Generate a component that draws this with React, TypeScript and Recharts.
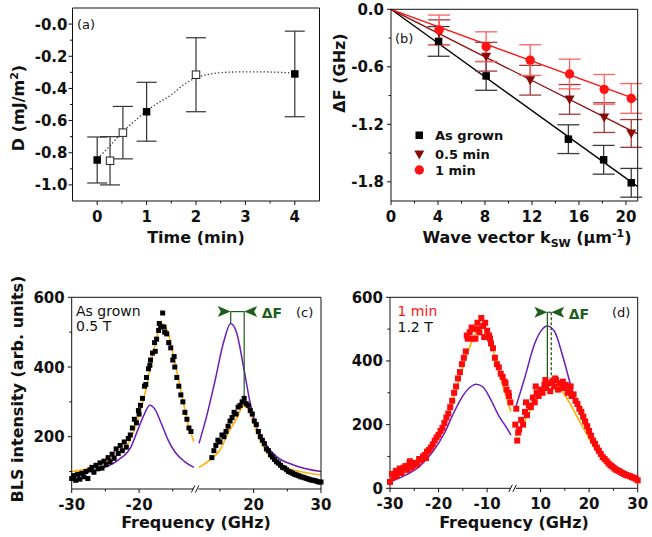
import React from 'react';
import { ComposedChart, Line, Scatter, XAxis, YAxis, ErrorBar, ReferenceLine, ReferenceDot } from 'recharts';

const W = 652;
const H = 537;
const FONT = '"DejaVu Sans", "Liberation Sans", sans-serif';
const INK = '#111111';
const YELLOW = '#FFB000';
const PURPLE = '#6A1CB8';
const GREEN = '#1D5E1D';
const RED = '#FF1414';
const DARKRED = '#8A0A0A';

// ---------------- Panel (a): D vs time ----------------
const timeFilled = [0, 1.0, 4.0];
const dFilled = [-0.845, -0.545, -0.31];
const dFilledErr = [0.143, 0.183, 0.266];
const timeOpen = [0.26, 0.52, 2.0];
const dOpen = [-0.85, -0.675, -0.315];
const dOpenErr = [0.15, 0.163, 0.23];
const fitTime = [0.06, 0.25, 0.5, 0.75, 1.0, 1.25, 1.5, 1.75, 2.0, 2.25, 2.5, 2.75, 3.0, 3.5, 4.0];
const fitD = [-0.82, -0.76, -0.675, -0.605, -0.54, -0.487, -0.44, -0.377, -0.335, -0.313, -0.302, -0.298, -0.297, -0.298, -0.305];
const aTimeMajor = [0, 1, 2, 3, 4];
const aTimeMinor = [0.5, 1.5, 2.5, 3.5];
const aDMajor = [0, -0.2, -0.4, -0.6, -0.8, -1.0];
const aDMinor = [-0.1, -0.3, -0.5, -0.7, -0.9];

// ---------------- Panel (b): dF vs k ----------------
const kAsGrown = [4.05, 8.1, 15.1, 18.1, 20.45];
const dfAsGrown = [-0.335, -0.695, -1.355, -1.57, -1.81];
const errAsGrown = [0.155, 0.15, 0.15, 0.15, 0.15];
const kHalf = [4.1, 8.1, 11.85, 15.2, 18.15, 20.45];
const dfHalf = [-0.24, -0.495, -0.74, -0.94, -1.13, -1.295];
const errHalf = [0.13, 0.15, 0.155, 0.155, 0.155, 0.145];
const kOne = [4.1, 8.1, 11.85, 15.2, 18.15, 20.45];
const dfOne = [-0.215, -0.39, -0.53, -0.675, -0.835, -0.93];
const errOne = [0.155, 0.155, 0.16, 0.155, 0.155, 0.155];
const kFit = [0, 21];
const fitAsGrown = [0, -1.85];
const fitHalf = [0, -1.3];
const fitOne = [0, -0.946];
const bKMajor = [0, 4, 8, 12, 16, 20];
const bKMinor = [2, 6, 10, 14, 18];
const bFMajor = [0, -0.6, -1.2, -1.8];
const bFMinor = [-0.3, -0.9, -1.5];

// ---------------- Panel (c): spectrum as grown, 0.5 T ----------------
const C_OFF = 11.5;
const cLeftFreq = [-30.0, -29.7, -29.4, -29.1, -28.8, -28.5, -28.2, -27.9, -27.6, -27.3, -27.0, -26.7, -26.4, -26.1, -25.8, -25.5, -25.2, -24.9, -24.6, -24.3, -24.0, -23.7, -23.4, -23.1, -22.8, -22.5, -22.2, -21.9, -21.6, -21.3, -21.0, -20.7, -20.4, -20.1, -19.8, -19.5, -19.2, -18.9, -18.6, -18.3, -18.0, -17.7, -17.4, -17.1, -16.8, -16.5, -16.2, -15.9, -15.6, -15.3, -15.0, -14.7, -14.4, -14.1, -13.8, -13.5, -13.2, -12.9, -12.6, -12.3, -17.0, -16.3, -17.6, -18.4, -14.8, -19.0, -20.0];
const cLeftCounts = [80, 88, 75, 92, 78, 95, 85, 100, 80, 105, 112, 98, 118, 108, 125, 110, 130, 120, 140, 128, 150, 138, 165, 152, 175, 160, 185, 170, 195, 205, 225, 250, 240, 275, 290, 310, 345, 370, 395, 420, 440, 470, 480, 505, 515, 555, 500, 495, 470, 455, 420, 400, 370, 345, 320, 300, 270, 250, 225, 215, 525, 515, 445, 405, 430, 350, 265];
const cRightFreq = [13.8, 14.1, 14.4, 14.7, 15.0, 15.3, 15.6, 15.9, 16.2, 16.5, 16.8, 17.1, 17.4, 17.7, 18.0, 18.3, 18.6, 18.9, 19.2, 19.5, 19.8, 20.1, 20.4, 20.7, 21.0, 21.3, 21.6, 21.9, 22.2, 22.5, 22.8, 23.1, 23.4, 23.7, 24.0, 24.3, 24.6, 24.9, 25.2, 25.5, 25.8, 26.1, 26.4, 26.7, 27.0, 27.3, 27.6, 27.9, 28.2, 28.5, 28.8, 29.1, 29.4, 29.7, 30.0];
const cRightCounts = [140, 160, 175, 190, 185, 205, 200, 215, 230, 245, 255, 270, 265, 285, 290, 300, 310, 295, 290, 275, 265, 245, 235, 215, 200, 190, 180, 165, 160, 148, 142, 135, 128, 124, 118, 112, 110, 105, 100, 98, 95, 92, 90, 88, 85, 84, 82, 80, 78, 76, 75, 74, 72, 70, 70];
const cFitLeftFreq = [-30, -27.6, -25.6, -23.6, -22.1, -20.9, -19.9, -18.9, -18.2, -17.45, -17.0, -16.56, -16.1, -15.7, -14.97, -14.23, -13.5, -12.75, -11.86];
const cFitLeft = [100, 109, 124, 143, 167, 210, 267, 343, 415, 477, 512, 525, 515, 500, 439, 372, 305, 238, 186];
const cMirLeftFreq = [-30, -25.6, -23.1, -21.2, -20.2, -19.4, -18.4, -17.6, -16.7, -15.7, -14.7, -13.2, -11.86];
const cMirLeft = [93, 109, 133, 171, 219, 257, 290, 277, 238, 191, 157, 128, 112];
const cFitRightFreq = [11.9, 13.5, 15.0, 16.2, 17.5, 18.5, 19.2, 20.2, 21.2, 22.4, 24.4, 26.9, 30];
const cFitRight = [112, 133, 162, 210, 253, 288, 280, 229, 181, 143, 114, 100, 90];
const cMirRightFreq = [11.9, 13.0, 14.3, 15.5, 16.6, 17.5, 18.5, 19.5, 20.4, 21.7, 23.4, 25.9, 30];
const cMirRight = [181, 257, 363, 468, 525, 497, 401, 296, 229, 181, 143, 119, 100];
const cMark = { lowFreq: 16.6, highFreq: 18.6, level: 559, lowEnd: 525, highEnd: 305 };
const cFreqMajor = [-30, -20, 20, 30];
const cFreqMinor = [-25, -15, 15, 25];
const cCntMajor = [200, 400, 600];
const cCntMinor = [100, 300, 500];

// ---------------- Panel (d): spectrum 1 min, 1.2 T ----------------
const D_OFF = 4.5;
const dLeftFreq = [-30.0, -29.6, -29.2, -28.8, -28.4, -28.0, -27.6, -27.2, -26.8, -26.4, -26.0, -25.6, -25.2, -24.8, -24.4, -24.0, -23.6, -23.2, -22.8, -22.4, -22.0, -21.6, -21.2, -20.8, -20.4, -20.0, -19.6, -19.2, -18.8, -18.4, -18.0, -17.6, -17.2, -16.8, -16.4, -16.0, -15.6, -15.2, -14.8, -14.4, -14.0, -13.6, -13.2, -12.8, -12.4, -12.0, -11.6, -11.2, -10.8, -10.4, -10.0, -9.6, -9.2, -8.8, -8.4, -8.0, -7.6, -7.2, -6.8, -6.4, -6.0, -5.6, -5.2, -14.2, -13.0, -11.9, -10.6, -9.4, -28.6, -25.9, -22.6, -6.2, -5.5];
const dLeftCounts = [20, 45, 35, 55, 50, 62, 48, 65, 70, 58, 78, 65, 72, 80, 75, 92, 88, 100, 105, 115, 120, 128, 138, 150, 160, 168, 180, 190, 205, 222, 235, 255, 275, 300, 320, 345, 365, 390, 410, 430, 470, 490, 505, 500, 470, 520, 490, 535, 510, 520, 495, 480, 455, 440, 410, 390, 380, 360, 350, 335, 310, 300, 270, 480, 470, 500, 475, 470, 40, 85, 95, 330, 290];
const dRightFreq = [4.8, 5.2, 5.6, 6.0, 6.4, 6.8, 7.2, 7.6, 8.0, 8.4, 8.8, 9.2, 9.6, 10.0, 10.4, 10.8, 11.2, 11.6, 12.0, 12.4, 12.8, 13.2, 13.6, 14.0, 14.4, 14.8, 15.2, 15.6, 16.0, 16.4, 16.8, 17.2, 17.6, 18.0, 18.4, 18.8, 19.2, 19.6, 20.0, 20.4, 20.8, 21.2, 21.6, 22.0, 22.4, 22.8, 23.2, 23.6, 24.0, 24.4, 24.8, 25.2, 25.6, 26.0, 26.4, 26.8, 27.2, 27.6, 28.0, 28.4, 28.8, 29.2, 29.6, 30.0, 5.0, 5.4, 7.0, 9.0, 11.0, 13.0, 14.6, 16.2];
const dRightCounts = [200, 150, 185, 215, 200, 240, 230, 260, 255, 285, 270, 300, 290, 310, 300, 325, 315, 330, 305, 335, 320, 340, 310, 330, 320, 315, 325, 300, 310, 290, 295, 275, 265, 250, 240, 225, 210, 195, 180, 165, 150, 140, 128, 118, 108, 98, 92, 85, 78, 72, 68, 62, 58, 55, 52, 48, 45, 42, 40, 38, 35, 33, 30, 25, 250, 175, 270, 320, 340, 345, 335, 320];
const dFitLeftFreq = [-30, -26.7, -24, -21.2, -18.8, -17.1, -15.4, -13.7, -12.3, -11.06, -9.9, -8.85, -7.5, -6.1, -5.1];
const dFitLeft = [28, 52, 84, 131, 204, 277, 361, 440, 487, 510, 487, 440, 361, 288, 241];
const dMirLeftFreq = [-30, -26.7, -24, -21.2, -18.8, -17.1, -15.1, -13.4, -12.3, -10.9, -9.2, -7.5, -6.1, -5.1];
const dMirLeft = [20, 42, 68, 115, 173, 230, 288, 319, 327, 319, 277, 225, 193, 167];
const dFitRightFreq = [4.9, 6.0, 7.4, 8.8, 10.5, 12.2, 13.95, 15.65, 17.7, 19.8, 21.8, 23.9, 26.6, 30];
const dFitRight = [165, 193, 230, 272, 309, 327, 314, 277, 220, 162, 110, 73, 47, 22];
const dMirRightFreq = [4.9, 6.7, 8.8, 10.2, 11.4, 12.9, 14.6, 16.3, 18.1, 19.8, 21.8, 24.6, 27.3, 30];
const dMirRight = [255, 345, 455, 497, 510, 492, 413, 319, 236, 173, 120, 79, 52, 28];
const dMark = { lowFreq: 11.4, highFreq: 12.2, level: 553, lowEnd: 330, highEnd: 330 };
const dFreqMajor = [-30, -20, -10, 10, 20, 30];
const dFreqMinor = [-25, -15, 15, 25];
const dCntMajor = [0, 200, 400, 600];
const dCntMinor = [100, 300, 500];

// ---------------- helpers ----------------
type Row = { x: number; y: number; err: number };
const rows = (xs: number[], ys: number[], errs?: number[]): Row[] =>
  xs.map((x, i) => ({ x, y: ys[i], err: errs ? errs[i] : 0 }));
const brk = (f: number, off: number) => (f < 0 ? f + off : f - off);
const unbrk = (v: number, off: number) => (v < 0 ? v - off : v + off);
const brows = (xs: number[], ys: number[], off: number): Row[] =>
  xs.map((x, i) => ({ x: brk(x, off), y: ys[i], err: 0 }));
const near = (a: number, b: number) => Math.abs(a - b) < 1e-6;

type Box = { l: number; t: number; r: number; b: number };
const AX = 1; // thickness reserved by each axis
const marginOf = (b: Box) => ({ left: b.l - AX, top: b.t - AX, right: W - b.r - AX, bottom: H - b.b - AX });

function mkTick(side: string, majors: number[], fmt: (v: number) => string, gap: number, breakAt?: number) {
  return (p: any) => {
    const x = Number(p.x);
    const y = Number(p.y);
    const v = Number(p.payload?.value);
    if (breakAt !== undefined && near(v, breakAt)) {
      return (
        <g>
          <rect x={x - 3} y={y - 2} width={5} height={4} fill="#ffffff" />
          <line x1={x - 5} y1={y + 3.5} x2={x - 1.5} y2={y - 3.5} stroke={INK} strokeWidth={1} />
          <line x1={x - 1} y1={y + 3.5} x2={x + 2.5} y2={y - 3.5} stroke={INK} strokeWidth={1} />
        </g>
      );
    }
    const major = majors.some((m) => near(m, v));
    const len = major ? 4 : 2.5;
    const lab = { fontFamily: FONT, fontWeight: 700, fontSize: 15, fill: INK } as const;
    if (side === 'bottom') {
      return (
        <g>
          <line x1={x} y1={y} x2={x} y2={y + len} stroke={INK} strokeWidth={1} />
          {major ? (
            <text x={x} y={y + 21} textAnchor="middle" {...lab}>
              {fmt(v)}
            </text>
          ) : null}
        </g>
      );
    }
    if (side === 'top') {
      return <line x1={x} y1={y} x2={x} y2={y + len} stroke={INK} strokeWidth={1} />;
    }
    if (side === 'left') {
      return (
        <g>
          <line x1={x} y1={y} x2={x - len} y2={y} stroke={INK} strokeWidth={1} />
          {major ? (
            <text x={x - gap} y={y + 5.5} textAnchor="end" {...lab}>
              {fmt(v)}
            </text>
          ) : null}
        </g>
      );
    }
    return <line x1={x} y1={y} x2={x - len} y2={y} stroke={INK} strokeWidth={1} />;
  };
}

type FrameCfg = {
  xDomain: [number, number];
  yDomain: [number, number];
  xMajor: number[];
  xMinor: number[];
  yMajor: number[];
  yMinor: number[];
  xFmt: (v: number) => string;
  yFmt: (v: number) => string;
  yGap: number;
  xBreak?: number;
};

function frameAxes(c: FrameCfg) {
  const xTicks = [...c.xMajor, ...c.xMinor, ...(c.xBreak !== undefined ? [c.xBreak] : [])].sort((a, b) => a - b);
  const yTicks = [...c.yMajor, ...c.yMinor].sort((a, b) => a - b);
  const line = { stroke: INK, strokeWidth: 1 };
  return [
    <XAxis key="xb" dataKey="x" type="number" domain={c.xDomain} ticks={xTicks} interval={0} height={AX}
      tickSize={0} tickMargin={0} tickLine={false} axisLine={line}
      tick={mkTick('bottom', c.xMajor, c.xFmt, 0, c.xBreak)} />,
    <XAxis key="xt" xAxisId="t" orientation="top" dataKey="x" type="number" domain={c.xDomain} ticks={xTicks}
      interval={0} height={AX} tickSize={0} tickMargin={0} tickLine={false} axisLine={line}
      tick={mkTick('top', c.xMajor, c.xFmt, 0, c.xBreak)} />,
    <YAxis key="yl" dataKey="y" type="number" domain={c.yDomain} ticks={yTicks} interval={0} width={AX}
      tickSize={0} tickMargin={0} tickLine={false} axisLine={line}
      tick={mkTick('left', c.yMajor, c.yFmt, c.yGap)} />,
    <YAxis key="yr" yAxisId="r" orientation="right" dataKey="y" type="number" domain={c.yDomain} ticks={yTicks}
      interval={0} width={AX} tickSize={0} tickMargin={0} tickLine={false} axisLine={line}
      tick={mkTick('right', c.yMajor, c.yFmt, 0)} />,
  ];
}

const square = (size: number, fill: string, stroke?: string) => (p: any) => (
  <rect x={p.cx - size / 2} y={p.cy - size / 2} width={size} height={size} fill={fill}
    stroke={stroke || 'none'} strokeWidth={stroke ? 1 : 0} />
);
const triDown = (size: number, fill: string) => (p: any) => (
  <path d={`M${p.cx - size / 2},${p.cy - size * 0.4} L${p.cx + size / 2},${p.cy - size * 0.4} L${p.cx},${p.cy + size * 0.5} Z`} fill={fill} />
);
const dotShape = (r: number, fill: string) => (p: any) => <circle cx={p.cx} cy={p.cy} r={r} fill={fill} />;

const arrowToRight = (p: any) => (
  <path d={`M${p.cx},${p.cy} L${p.cx - 13},${p.cy - 5.5} L${p.cx - 10},${p.cy} L${p.cx - 13},${p.cy + 5.5} Z`} fill={GREEN} />
);
const arrowToLeftLabel = (p: any) => (
  <g>
    <path d={`M${p.cx},${p.cy} L${p.cx + 13},${p.cy - 5.5} L${p.cx + 10},${p.cy} L${p.cx + 13},${p.cy + 5.5} Z`} fill={GREEN} />
    <text x={p.cx + 17.5} y={p.cy + 6.5} fontFamily={FONT} fontWeight={700} fontSize={14} fill={GREEN}>ΔF</text>
  </g>
);

// ---------------- panels ----------------
const boxA: Box = { l: 72.5, t: 8, r: 319.5, b: 201 };
const boxB: Box = { l: 391, t: 9.3, r: 637.7, b: 201 };
const boxC: Box = { l: 71.7, t: 297.3, r: 321, b: 489 };
const boxD: Box = { l: 390, t: 297.3, r: 637.7, b: 488.3 };

function PanelA() {
  return (
    <ComposedChart width={W} height={H} margin={marginOf(boxA)}>
      {frameAxes({
        xDomain: [-0.5, 4.5], yDomain: [-1.1, 0.1],
        xMajor: aTimeMajor, xMinor: aTimeMinor, yMajor: aDMajor, yMinor: aDMinor,
        xFmt: (v) => String(v), yFmt: (v) => (Math.abs(v) < 1e-9 ? '-0.0' : v.toFixed(1)), yGap: 5,
      })}
      <Line data={rows(fitTime, fitD)} dataKey="y" type="monotone" stroke="#333" strokeWidth={1.3}
        strokeDasharray="1.3 2.2" dot={false} isAnimationActive={false} />
      <Scatter data={rows(timeOpen, dOpen, dOpenErr)} dataKey="y" shape={square(7.5, '#ffffff', '#222')} isAnimationActive={false}>
        <ErrorBar dataKey="err" direction="y" width={10} stroke="#333" strokeWidth={1.2} />
      </Scatter>
      <Scatter data={rows(timeFilled, dFilled, dFilledErr)} dataKey="y" shape={square(7.5, '#000')} isAnimationActive={false}>
        <ErrorBar dataKey="err" direction="y" width={10} stroke="#333" strokeWidth={1.2} />
      </Scatter>
    </ComposedChart>
  );
}

function PanelB() {
  return (
    <ComposedChart width={W} height={H} margin={marginOf(boxB)}>
      {frameAxes({
        xDomain: [0, 21], yDomain: [-2, 0],
        xMajor: bKMajor, xMinor: bKMinor, yMajor: bFMajor, yMinor: bFMinor,
        xFmt: (v) => String(v), yFmt: (v) => (Math.abs(v) < 1e-9 ? '0.0' : v.toFixed(1)), yGap: 7,
      })}
      <Line data={rows(kFit, fitAsGrown)} dataKey="y" type="linear" stroke="#000" strokeWidth={1.3} dot={false} isAnimationActive={false} />
      <Line data={rows(kFit, fitHalf)} dataKey="y" type="linear" stroke={DARKRED} strokeWidth={1.3} dot={false} isAnimationActive={false} />
      <Line data={rows(kFit, fitOne)} dataKey="y" type="linear" stroke={RED} strokeWidth={1.3} dot={false} isAnimationActive={false} />
      <Scatter data={rows(kAsGrown, dfAsGrown, errAsGrown)} dataKey="y" shape={square(7.5, '#000')} isAnimationActive={false}>
        <ErrorBar dataKey="err" direction="y" width={11} stroke="#3a3a3a" strokeWidth={1.3} />
      </Scatter>
      <Scatter data={rows(kHalf, dfHalf, errHalf)} dataKey="y" shape={triDown(10, DARKRED)} isAnimationActive={false}>
        <ErrorBar dataKey="err" direction="y" width={11} stroke="#a03a3a" strokeWidth={1.3} />
      </Scatter>
      <Scatter data={rows(kOne, dfOne, errOne)} dataKey="y" shape={dotShape(4.7, RED)} isAnimationActive={false}>
        <ErrorBar dataKey="err" direction="y" width={11} stroke="#ff6060" strokeWidth={1.3} />
      </Scatter>
    </ComposedChart>
  );
}

function PanelC() {
  const x1 = brk(cMark.lowFreq, C_OFF);
  const x2 = brk(cMark.highFreq, C_OFF);
  return (
    <ComposedChart width={W} height={H} margin={marginOf(boxC)}>
      {frameAxes({
        xDomain: [-18.5, 18.5], yDomain: [50, 600],
        xMajor: cFreqMajor.map((f) => brk(f, C_OFF)), xMinor: cFreqMinor.map((f) => brk(f, C_OFF)),
        yMajor: cCntMajor, yMinor: cCntMinor,
        xFmt: (v) => String(Math.round(unbrk(v, C_OFF))), yFmt: (v) => String(v), yGap: 7, xBreak: 0,
      })}
      <Scatter data={brows(cLeftFreq, cLeftCounts, C_OFF)} dataKey="y" shape={square(5, '#000')} isAnimationActive={false} />
      <Scatter data={brows(cRightFreq, cRightCounts, C_OFF)} dataKey="y" shape={square(5, '#000')} isAnimationActive={false} />
      <Line data={brows(cMirLeftFreq, cMirLeft, C_OFF)} dataKey="y" type="monotone" stroke={PURPLE} strokeWidth={1.5} dot={false} isAnimationActive={false} />
      <Line data={brows(cMirRightFreq, cMirRight, C_OFF)} dataKey="y" type="monotone" stroke={PURPLE} strokeWidth={1.5} dot={false} isAnimationActive={false} />
      <Line data={brows(cFitLeftFreq, cFitLeft, C_OFF)} dataKey="y" type="monotone" stroke={YELLOW} strokeWidth={1.6} dot={false} isAnimationActive={false} />
      <Line data={brows(cFitRightFreq, cFitRight, C_OFF)} dataKey="y" type="monotone" stroke={YELLOW} strokeWidth={1.6} dot={false} isAnimationActive={false} />
      <ReferenceLine segment={[{ x: x1, y: cMark.level }, { x: x1, y: cMark.lowEnd }]} stroke={GREEN} strokeWidth={1.2} />
      <ReferenceLine segment={[{ x: x2, y: cMark.level }, { x: x2, y: cMark.highEnd }]} stroke={GREEN} strokeWidth={1.2} />
      <ReferenceLine segment={[{ x: x1, y: cMark.level }, { x: x2, y: cMark.level }]} stroke={GREEN} strokeWidth={1.2} />
      <ReferenceDot x={x1} y={cMark.level} r={0} shape={arrowToRight} />
      <ReferenceDot x={x2} y={cMark.level} r={0} shape={arrowToLeftLabel} />
    </ComposedChart>
  );
}

function PanelD() {
  const x1 = brk(dMark.lowFreq, D_OFF);
  const x2 = brk(dMark.highFreq, D_OFF);
  return (
    <ComposedChart width={W} height={H} margin={marginOf(boxD)}>
      {frameAxes({
        xDomain: [-25.5, 25.5], yDomain: [0, 600],
        xMajor: dFreqMajor.map((f) => brk(f, D_OFF)), xMinor: dFreqMinor.map((f) => brk(f, D_OFF)),
        yMajor: dCntMajor, yMinor: dCntMinor,
        xFmt: (v) => String(Math.round(unbrk(v, D_OFF))), yFmt: (v) => String(v), yGap: 7, xBreak: 0,
      })}
      <Scatter data={brows(dLeftFreq, dLeftCounts, D_OFF)} dataKey="y" shape={square(6, '#ff0a0a')} isAnimationActive={false} />
      <Scatter data={brows(dRightFreq, dRightCounts, D_OFF)} dataKey="y" shape={square(6, '#ff0a0a')} isAnimationActive={false} />
      <Line data={brows(dMirLeftFreq, dMirLeft, D_OFF)} dataKey="y" type="monotone" stroke={PURPLE} strokeWidth={1.5} dot={false} isAnimationActive={false} />
      <Line data={brows(dMirRightFreq, dMirRight, D_OFF)} dataKey="y" type="monotone" stroke={PURPLE} strokeWidth={1.5} dot={false} isAnimationActive={false} />
      <Line data={brows(dFitLeftFreq, dFitLeft, D_OFF)} dataKey="y" type="monotone" stroke={YELLOW} strokeWidth={1.6} dot={false} isAnimationActive={false} />
      <Line data={brows(dFitRightFreq, dFitRight, D_OFF)} dataKey="y" type="monotone" stroke={YELLOW} strokeWidth={1.6} dot={false} isAnimationActive={false} />
      <ReferenceLine segment={[{ x: x1, y: dMark.level }, { x: x1, y: dMark.lowEnd }]} stroke={GREEN} strokeWidth={1.3} />
      <ReferenceLine segment={[{ x: x2, y: dMark.level }, { x: x2, y: dMark.highEnd }]} stroke="#334d1a" strokeWidth={1.3} strokeDasharray="3 2" />
      <ReferenceLine segment={[{ x: x1, y: dMark.level }, { x: x2, y: dMark.level }]} stroke={GREEN} strokeWidth={1.2} />
      <ReferenceDot x={x1} y={dMark.level} r={0} shape={arrowToRight} />
      <ReferenceDot x={x2} y={dMark.level} r={0} shape={arrowToLeftLabel} />
    </ComposedChart>
  );
}

function Overlay() {
  const title = { fontFamily: FONT, fontWeight: 700, fontSize: 16, fill: INK } as const;
  const small = { fontFamily: FONT, fontSize: 13, fill: INK } as const;
  const note = { fontFamily: FONT, fontSize: 14, fill: INK } as const;
  const leg = { fontFamily: FONT, fontWeight: 700, fontSize: 13, fill: INK } as const;
  return (
    <svg width={W} height={H} style={{ position: 'absolute', left: 0, top: 0, pointerEvents: 'none' }}>
      <text x={77} y={29} {...small}>(a)</text>
      <text x={395} y={43} {...small}>(b)</text>
      <text x={296} y={317} {...small}>(c)</text>
      <text x={612} y={317} {...small}>(d)</text>

      <text x={76} y={316} {...note}>As grown</text>
      <text x={76} y={331} {...note}>0.5 T</text>
      <text x={397.5} y={316} {...note} fill={RED}>1 min</text>
      <text x={397.5} y={331.5} {...note}>1.2 T</text>

      <text x={196} y={243} textAnchor="middle" {...title}>Time (min)</text>
      <text transform="translate(24,108) rotate(-90)" textAnchor="middle" {...title}>
        D (mJ/m<tspan dy={-6} fontSize={11}>2</tspan><tspan dy={6}>)</tspan>
      </text>
      <text transform="translate(345,73) rotate(-90)" textAnchor="middle" {...title}>ΔF (GHz)</text>
      <text x={527} y={243} textAnchor="middle" {...title}>
        Wave vector k<tspan dy={4} fontSize={11}>SW</tspan><tspan dy={-4}> (µm</tspan><tspan dy={-6} fontSize={11}>-1</tspan><tspan dy={6}>)</tspan>
      </text>
      <text transform="translate(23,389) rotate(-90)" textAnchor="middle" {...title}>BLS intensity (arb. units)</text>
      <text x={196} y={528} textAnchor="middle" {...title}>Frequency (GHz)</text>
      <text x={514} y={528} textAnchor="middle" {...title}>Frequency (GHz)</text>

      <rect x={415.5} y={131.5} width={7.5} height={7.5} fill="#000" />
      <path d="M414.3,150.5 L424.3,150.5 L419.3,159.5 Z" fill={DARKRED} />
      <circle cx={419.3} cy={170} r={4.7} fill={RED} />
      <text x={435} y={140} {...leg}>As grown</text>
      <text x={435} y={159} {...leg}>0.5 min</text>
      <text x={435} y={174.5} {...leg}>1 min</text>
    </svg>
  );
}

export default function App() {
  const layer: React.CSSProperties = { position: 'absolute', left: 0, top: 0 };
  return (
    <div style={{ position: 'absolute', left: 0, top: 0, width: W, height: H, background: '#ffffff', overflow: 'hidden' }}>
      <div style={layer}><PanelA /></div>
      <div style={layer}><PanelB /></div>
      <div style={layer}><PanelC /></div>
      <div style={layer}><PanelD /></div>
      <Overlay />
    </div>
  );
}
